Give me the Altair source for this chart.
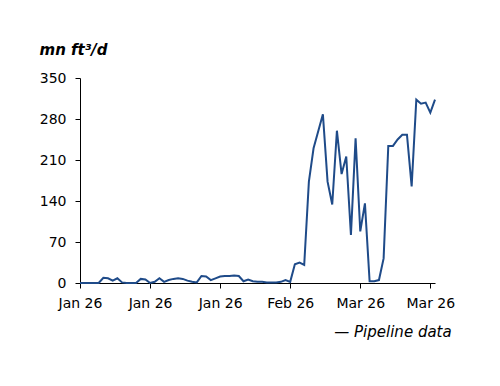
import altair as alt
import pandas as pd

# Daily dates, 1 Jan 2026 to 18 Mar 2026
dates = pd.date_range("2026-01-01", periods=77, freq="D").strftime("%Y-%m-%d").tolist()

# Flow, mn ft3/d
flow = [
    0, 0, 0, 0, 0, 9, 8, 4, 8, 1,
    0, 0, 0, 7, 6, 0, 2, 8, 2, 5,
    7, 8, 7, 4, 2, 1, 12, 11, 5, 8,
    11, 12, 12, 13, 12, 3, 6, 3, 2, 2,
    1, 1, 1, 2, 5, 2, 32, 35, 31, 173,
    230, 259, 288, 173, 134, 260, 186, 216, 82, 247,
    88, 136, 3, 3, 5, 42, 234, 234, 245, 253,
    253, 165, 313, 306, 308, 291, 313,
]

y_ticks = [0, 70, 140, 210, 280, 350]
x_tick_days = [(1, 1), (1, 16), (1, 31), (2, 15), (3, 2), (3, 17)]

df = pd.DataFrame({"date": dates, "flow": flow})

FONT = "DejaVu Sans"

x_values = [alt.DateTime(year=2026, month=m, date=d, utc=True) for m, d in x_tick_days]

chart = (
    alt.Chart(df)
    .mark_line(color="#1f4b89", strokeWidth=2)
    .encode(
        x=alt.X(
            "date:T",
            scale=alt.Scale(
                type="utc",
                domain=[
                    alt.DateTime(year=2026, month=1, date=1, utc=True),
                    alt.DateTime(year=2026, month=3, date=18, utc=True),
                ],
            ),
            axis=alt.Axis(
                values=x_values,
                labelExpr="utcFormat(datum.value, '%b %y')",
                labelFlush=False,
                labelOverlap=False,
                title=None,
                tickSize=5,
                labelPadding=8,
            ),
        ),
        y=alt.Y(
            "flow:Q",
            scale=alt.Scale(domain=[0, 350], nice=False),
            axis=alt.Axis(
                values=y_ticks,
                title="mn ft³/d",
                titleAngle=0,
                titleAlign="left",
                titleBaseline="alphabetic",
                titleX=-41,
                titleY=-24,
                titleFont=FONT,
                titleFontSize=15,
                titleFontStyle="italic",
                titleFontWeight="bold",
                titleColor="black",
                tickSize=5,
                labelPadding=9,
            ),
        ),
    )
    .properties(
        width=355,
        height=205,
        autosize=alt.AutoSizeParams(type="none"),
        padding={"left": 72, "top": 70, "right": 50, "bottom": 80},
        title=alt.TitleParams(
            text="— Pipeline data",
            orient="bottom",
            anchor="end",
            dx=-3,
            offset=15,
            font=FONT,
            fontSize=15,
            fontStyle="italic",
            fontWeight="normal",
            color="black",
        ),
    )
    .configure_view(stroke=None)
    .configure_axis(
        grid=False,
        domainColor="black",
        tickColor="black",
        labelColor="black",
        labelFont=FONT,
        labelFontSize=14,
    )
)

chart.save("out.html", embed_options={"renderer": "svg", "actions": False})
